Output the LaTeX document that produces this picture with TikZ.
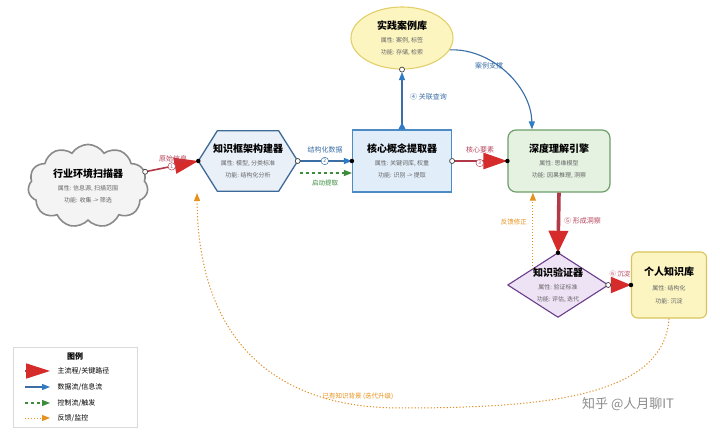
\documentclass[tikz,border=0pt]{standalone}
\usepackage{fontspec}
\setmainfont{Noto Sans CJK SC}
\usetikzlibrary{shapes.geometric,shapes.symbols,arrows.meta,calc}
\pgfdeclarelayer{background}
\pgfdeclarelayer{canvas}
\pgfsetlayers{canvas,background,main}
\definecolor{mred}{HTML}{D62B2B}
\definecolor{mredline}{HTML}{B23A48}
\definecolor{dblue}{HTML}{2F7BC4}
\definecolor{dblueline}{HTML}{3A6EA5}
\definecolor{cgreen}{HTML}{3C8C3C}
\definecolor{corange}{HTML}{E8921E}
\definecolor{cloudfill}{HTML}{F4F4F4}
\definecolor{cloudedge}{HTML}{8A8A8A}
\definecolor{hexfill}{HTML}{E9F0F8}
\definecolor{hexedge}{HTML}{3E6A99}
\definecolor{rectfill}{HTML}{E1EDF9}
\definecolor{rectedge}{HTML}{4C8BC6}
\definecolor{deepfill}{HTML}{E5F2E1}
\definecolor{deepedge}{HTML}{6E9E6A}
\definecolor{casefill}{HTML}{FDF5C0}
\definecolor{caseedge}{HTML}{E3CF6A}
\definecolor{verfill}{HTML}{EEE2F5}
\definecolor{veredge}{HTML}{6A3E8A}
\definecolor{perfill}{HTML}{FCF5C2}
\definecolor{peredge}{HTML}{D8C45A}
\definecolor{attrgray}{HTML}{666666}
\definecolor{lblred}{HTML}{B8435A}
\newcommand\nodettl[1]{{\fontsize{10}{12}\selectfont\bfseries #1}}
\newcommand\nodeattr[1]{{\fontsize{6}{8.5}\selectfont\color{attrgray}#1}}
\tikzset{
  box/.style={align=center, inner sep=2pt},
  mainline/.style={draw=mredline, line width=1.6pt, -{Triangle[length=24pt,width=16pt,color=mred]}},
  dataline/.style={draw=dblueline, line width=1.1pt, -{Triangle[length=8pt,width=6pt,color=dblue]}},
  ctrlline/.style={draw=cgreen, line width=1.1pt, dash pattern=on 3pt off 3pt, -{Triangle[length=8pt,width=6pt,color=cgreen]}},
  fbline/.style={draw=corange, line width=1pt, dotted, -{Triangle[length=8pt,width=6pt,color=corange]}},
  fbcurve/.style={draw=corange!80!brown, line width=1pt, dash pattern=on 1.2pt off 2pt, -{Triangle[length=8pt,width=6pt,color=corange]}},
  opendot/.style={circle, draw=black!75, fill=white, line width=0.7pt, inner sep=0pt, minimum size=5pt},
  enddot/.style={circle, fill=black, inner sep=0pt, minimum size=4.5pt},
  numcirc/.style={circle, draw=#1, fill=white, line width=0.5pt, inner sep=0.6pt, minimum size=7.5pt, font=\fontsize{5}{5}\selectfont, text=#1},
  elabel/.style={font=\fontsize{7}{8}\selectfont, inner sep=1pt},
  legtext/.style={anchor=west, font=\fontsize{7}{8}\selectfont},
}
\begin{document}
\begin{tikzpicture}[x=1pt,y=-1pt]
\useasboundingbox (0,0) rectangle (720,435);
\begin{pgfonlayer}{canvas}
  \fill[white] (0,0) rectangle (720,435);
\end{pgfonlayer}

% ---------- nodes ----------
\node[cloud, cloud puffs=11, cloud puff arc=115, aspect=1.5, minimum width=120, minimum height=80,
      draw=cloudedge, line width=1.6pt, fill=cloudfill, box] (scan) at (88,186)
  {\nodettl{行业环境扫描器}\\[1pt]\nodeattr{属性: 信息源, 扫描范围}\\\nodeattr{功能: 收集 -> 筛选}};

\node[box, minimum width=99, minimum height=60, inner sep=0pt] (hex) at (248,161)
  {\nodettl{知识框架构建器}\\[1pt]\nodeattr{属性: 模型, 分类标准}\\\nodeattr{功能: 结构化分析}};

\node[box, draw=rectedge, fill=rectfill, line width=1.2pt, minimum width=99, minimum height=62] (core) at (402,161)
  {\nodettl{核心概念提取器}\\[1pt]\nodeattr{属性: 关键词库, 权重}\\\nodeattr{功能: 识别 -> 提取}};

\node[box, draw=deepedge, fill=deepfill, line width=1.2pt, rounded corners=8pt, minimum width=102, minimum height=62] (deep) at (559,161)
  {\nodettl{深度理解引擎}\\[1pt]\nodeattr{属性: 思维模型}\\\nodeattr{功能: 因果推理, 洞察}};

\node[ellipse, box, draw=caseedge, fill=casefill, line width=1.1pt, minimum width=102, minimum height=62] (case) at (402,38)
  {\nodettl{实践案例库}\\[1pt]\nodeattr{属性: 案例, 标签}\\\nodeattr{功能: 存储, 检索}};

\node[box, minimum width=100, minimum height=64, inner sep=0pt] (ver) at (558,285)
  {\nodettl{知识验证器}\\[1pt]\nodeattr{属性: 验证标准}\\\nodeattr{功能: 评估, 迭代}};

\node[box, draw=peredge, fill=perfill, line width=1.1pt, rounded corners=6pt, minimum width=75, minimum height=66] (per) at (669,285)
  {\nodettl{个人知识库}\\[3pt]\nodeattr{属性: 结构化}\\[1pt]\nodeattr{功能: 沉淀}};

\begin{pgfonlayer}{background}
  \path[draw=hexedge, fill=hexfill, line width=1.3pt, line join=round]
    (hex.west) -- ($(hex.north west)+(19,0)$) -- ($(hex.north east)+(-19,0)$) -- (hex.east)
    -- ($(hex.south east)+(-19,0)$) -- ($(hex.south west)+(19,0)$) -- cycle;
  \path[draw=veredge, fill=verfill, line width=1.1pt, line join=round]
    (ver.west) -- (ver.north) -- (ver.east) -- (ver.south) -- cycle;
\end{pgfonlayer}

% ---------- connectors ----------
% 1 scan -> hex
\draw[mainline] (scan.14) -- (hex.west);
\node[opendot] at (scan.14) {};
\node[enddot] at (hex.west) {};
\node[elabel, text=lblred] at (173,159) {原始信息};
\node[numcirc=lblred] at ($(scan.14)!0.5!(hex.west)$) {1};

% 2 hex -> core
\draw[dataline] (hex.east) -- (core.west);
\node[opendot] at (hex.east) {};
\node[enddot] at (core.west) {};
\node[elabel, text=dblueline] at (325,150) {结构化数据};
\node[numcirc=dblueline] at ($(hex.east)!0.5!(core.west)$) {2};

% control: hex -> core
\coordinate (gs) at ($(hex.east)+(2,12)$);
\coordinate (ge) at ($(core.west)+(0,12)$);
\draw[ctrlline] (gs) -- (ge);
\node[elabel, text=cgreen, font=\fontsize{6.5}{7}\selectfont] at (325,183) {启动提取};

% 3 core -> deep
\draw[mainline, line width=2.6pt] (core.east) -- (deep.west);
\node[opendot] at (core.east) {};
\node[enddot] at (deep.west) {};
\node[elabel, text=lblred] at (480,150) {核心要素};
\node[numcirc=lblred] at ($(core.east)!0.5!(deep.west)+(0,2)$) {3};

% 4 core -> case
\draw[draw=dblueline, line width=1.1pt, {Triangle[reversed,length=7pt,width=7pt,color=dblue]}-{Triangle[length=8pt,width=6pt,color=dblue]}]
  (core.north) -- ($(case.south)+(0,2.5)$);
\node[opendot] at (case.south) {};
\node[elabel, text=dblueline, anchor=west] at (409,97) {④ 关联查询};

% case -> deep
\coordinate (dtop) at ($(deep.north)+(-27,0)$);
\draw[dataline] (case.-14) .. controls (490,48) and (531,85) .. (dtop);
\node[elabel, text=dblueline] at (489,66) {案例支撑};

% 5 deep -> ver
\draw[mainline, line width=3.6pt, -{Triangle[length=22pt,width=19pt,color=mred]}] (deep.south) -- (ver.north);
\node[enddot] at (ver.north) {};
\node[elabel, text=lblred, anchor=west] at (563,221) {⑤ 形成洞察};

% feedback ver -> deep
\coordinate (vfb) at ($(ver.north)!0.5!(ver.west)$);
\draw[fbline] (vfb) -- (vfb |- deep.south);
\node[elabel, text=corange, anchor=east, font=\fontsize{6.5}{7}\selectfont] at (528,222) {反馈修正};

% 6 ver -> per
\draw[mainline, -{Triangle[length=20pt,width=16pt,color=mred]}] (ver.east) -- (per.west);
\node[opendot] at (ver.east) {};
\node[enddot] at (per.west) {};
\node[elabel, text=lblred, font=\fontsize{6.5}{7}\selectfont] at (620,274) {⑥ 沉淀};

% per -> hex (background knowledge)
\coordinate (fbend) at (197,193);
\draw[fbcurve] (per.south) .. controls (664,398) and (540,408) .. (400,408)
  .. controls (265,408) and (198,330) .. (fbend);
\node[elabel, text=corange, font=\fontsize{6.5}{7}\selectfont] at (358,396) {已有知识背景 (迭代升级)};

% ---------- legend ----------
\node[draw=black!15, fill=white, line width=0.6pt, minimum width=124, minimum height=80] (leg) at (75,387) {};
\node[font=\fontsize{8}{9}\selectfont\bfseries] (legt) at (75,356) {图例};
\draw[draw=mredline, line width=1.6pt, -{Triangle[length=24pt,width=15pt,color=mred]}] (25,371) -- (50,371);
\node[legtext] at (54,371) {主流程/关键路径};
\draw[dataline] (25,387) -- (50,387);
\node[legtext] at (54,387) {数据流/信息流};
\draw[ctrlline] (25,403) -- (50,403);
\node[legtext] at (54,403) {控制流/触发};
\draw[fbline] (25,418) -- (50,418);
\node[legtext] at (54,418) {反馈/监控};

% ---------- watermark ----------
\node[text=black!45, font=\fontsize{13}{14}\selectfont] (wm) at (628,404) {知乎 @人月聊IT};
\end{tikzpicture}
\end{document}
